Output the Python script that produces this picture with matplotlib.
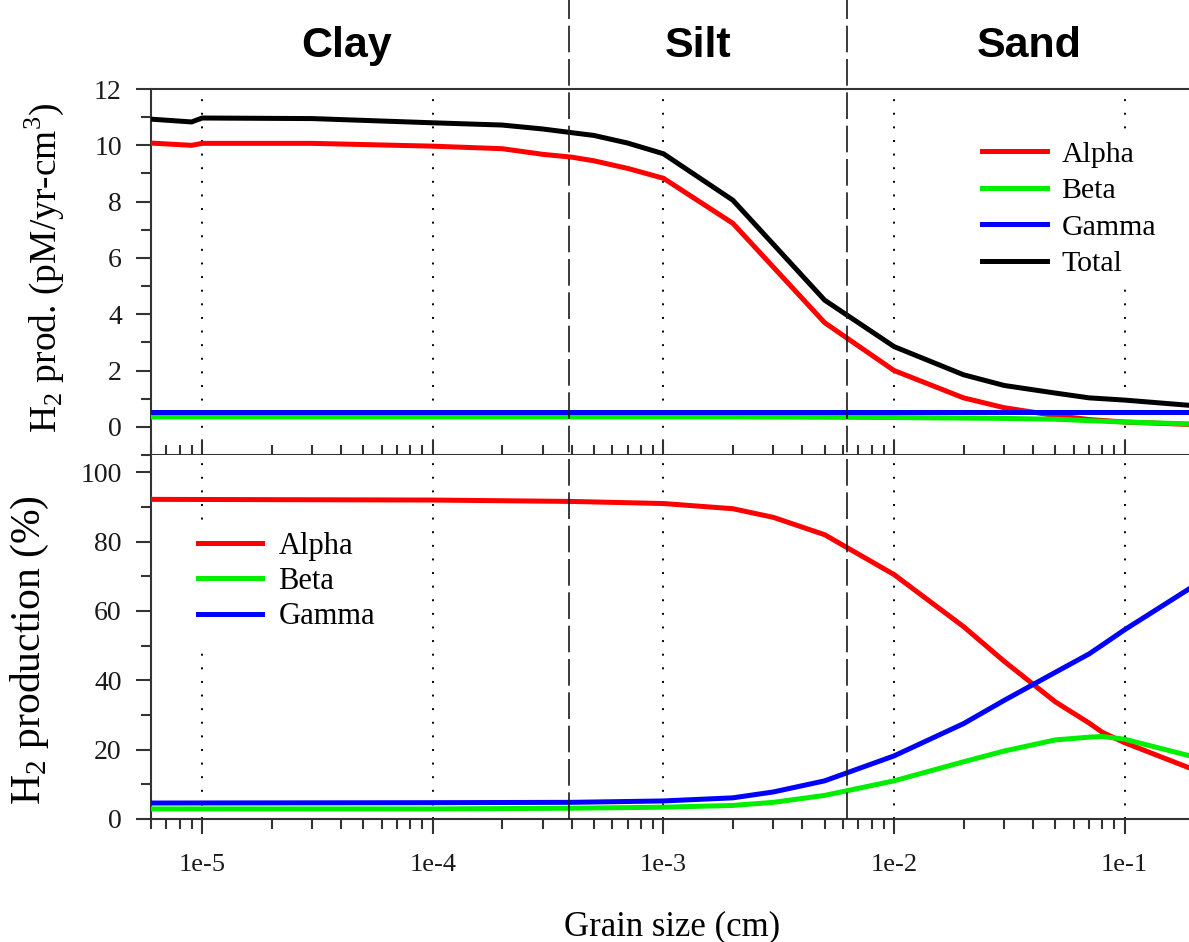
import numpy as np
import matplotlib
matplotlib.use("Agg")
import matplotlib.pyplot as plt
from matplotlib.ticker import LogLocator, FuncFormatter, MultipleLocator, NullFormatter
from matplotlib.transforms import blended_transform_factory

plt.rcParams['font.family'] = ['Liberation Serif', 'DejaVu Serif']
plt.rcParams['mathtext.fontset'] = 'custom'
plt.rcParams['mathtext.rm'] = 'Liberation Serif'

# H2 production rate (pM/yr-cm3) vs grain size (cm)
x_rate = [6e-6, 9e-6, 1e-5, 3e-5, 1e-4, 2e-4, 3e-4, 4e-4, 5e-4, 7e-4, 1e-3,
          2e-3, 5e-3, 1e-2, 2e-2, 3e-2, 5e-2, 7e-2, 1e-1, 2e-1]
alpha_rate = [10.08, 10.0, 10.07, 10.07, 9.97, 9.88, 9.68, 9.58, 9.45, 9.18, 8.83,
              7.23, 3.7, 2.0, 1.03, 0.68, 0.4, 0.26, 0.17, 0.08]
beta_rate = [0.35, 0.35, 0.35, 0.35, 0.35, 0.35, 0.35, 0.35, 0.35, 0.35, 0.35,
             0.35, 0.34, 0.33, 0.31, 0.3, 0.27, 0.22, 0.17, 0.1]
gamma_rate = [0.51] * 20
total_rate = [10.93, 10.83, 10.97, 10.95, 10.8, 10.72, 10.58, 10.45, 10.35, 10.08, 9.7,
              8.05, 4.5, 2.85, 1.85, 1.47, 1.2, 1.03, 0.95, 0.75]

# H2 production share (%)
x_pct = [6e-6, 1e-4, 4e-4, 1e-3, 2e-3, 3e-3, 5e-3, 1e-2, 2e-2, 3e-2,
         5e-2, 7e-2, 8e-2, 1e-1, 2e-1]
alpha_pct = [92.2, 92.0, 91.6, 91.0, 89.5, 87.0, 82.0, 70.5, 55.5, 45.5,
             33.8, 27.7, 25.0, 22.0, 14.2]
beta_pct = [2.9, 2.9, 3.1, 3.4, 3.9, 4.8, 6.8, 11.0, 16.5, 19.6,
            22.8, 23.6, 23.8, 23.0, 17.9]
gamma_pct = [4.6, 4.7, 4.8, 5.2, 6.1, 7.8, 11.0, 18.2, 27.5, 34.2,
             42.3, 47.6, 50.2, 54.6, 67.3]

# class boundaries (cm) and labels
bounds = [3.9e-4, 6.25e-3]
classes = ['Clay', 'Silt', 'Sand']
class_x = [347, 698, 1029]   # label centres, px
decades = [1e-5, 1e-4, 1e-3, 1e-2, 1e-1]

RED, GREEN, BLUE, BLACK = '#ff0000', '#00ee00', '#0000ff', '#000000'
LW = 3.6
SPINE = '#333333'

fig = plt.figure(figsize=(11.89, 9.42), dpi=100)
ax1 = fig.add_axes([0.127, 0.517, 0.873, 0.3885])
ax2 = fig.add_axes([0.127, 0.1306, 0.873, 0.3864])

for ax in (ax1, ax2):
    ax.set_xscale('log')
    ax.set_xlim(6e-6, 0.19)
    for d in decades:
        ax.axvline(d, color='black', lw=1.4, ls=(0, (1, 6)), zorder=1)
    ax.spines['right'].set_visible(False)
    for s in ('left', 'bottom', 'top'):
        ax.spines[s].set_color(SPINE)
        ax.spines[s].set_linewidth(1.5)
    ax.xaxis.set_major_locator(LogLocator(base=10, numticks=20))
    ax.xaxis.set_minor_locator(LogLocator(base=10, subs=np.arange(2, 10), numticks=20))
    ax.xaxis.set_minor_formatter(NullFormatter())
    ax.tick_params(axis='both', which='major', length=11, width=1.5, color=SPINE,
                   labelcolor='#1a1a1a')
    ax.tick_params(axis='both', which='minor', length=7, width=1.5, color=SPINE)
    ax.tick_params(axis='y', which='both', direction='out', pad=10, labelsize=20)
    ax.tick_params(axis='x', labelsize=19)

# top panel: rates
ax1.plot(x_rate, alpha_rate, color=RED, lw=LW, label='Alpha', zorder=3)
ax1.plot(x_rate, beta_rate, color=GREEN, lw=LW, label='Beta', zorder=3)
ax1.plot(x_rate, gamma_rate, color=BLUE, lw=LW, label='Gamma', zorder=3)
ax1.plot(x_rate, total_rate, color=BLACK, lw=LW, label='Total', zorder=3)
ax1.set_ylim(-1, 12)
ax1.yaxis.set_major_locator(MultipleLocator(2))
ax1.yaxis.set_minor_locator(MultipleLocator(1))
ax1.tick_params(axis='x', which='both', direction='in', labelbottom=False, top=False)

leg1 = ax1.legend(loc='center left', bbox_to_anchor=(0.775, 0.672), fontsize=21.5,
                  handlelength=2.15, handletextpad=0.5, labelspacing=0.32,
                  borderpad=0.4, frameon=True, fancybox=False, framealpha=1,
                  facecolor='white', edgecolor='none')
leg1.set_zorder(5)

# bottom panel: shares
ax2.plot(x_pct, alpha_pct, color=RED, lw=LW, label='Alpha', zorder=3)
ax2.plot(x_pct, beta_pct, color=GREEN, lw=LW, label='Beta', zorder=3)
ax2.plot(x_pct, gamma_pct, color=BLUE, lw=LW, label='Gamma', zorder=3)
ax2.set_ylim(0, 105)
ax2.yaxis.set_major_locator(MultipleLocator(20))
ax2.yaxis.set_minor_locator(MultipleLocator(10))
ax2.spines['top'].set_visible(False)
ax2.tick_params(axis='x', which='both', direction='out', top=False, pad=14)
ax2.xaxis.set_major_formatter(FuncFormatter(lambda v, p: '1e%d' % round(np.log10(v))))

leg2 = ax2.legend(loc='center left', bbox_to_anchor=(0.019, 0.652), fontsize=22,
                  handlelength=2.1, handletextpad=0.52, labelspacing=0.2,
                  borderpad=0.4, frameon=True, fancybox=False, framealpha=1,
                  facecolor='white', edgecolor='none')
leg2.set_zorder(5)

# class boundaries, dashed through both panels and the header
trans = blended_transform_factory(ax2.transData, fig.transFigure)
for b in bounds:
    ax2.plot([b, b], [0.1306, 1.0], transform=trans, color='#1a1a1a', lw=1.2,
             ls=(0, (16, 4)), clip_on=False, zorder=4)

for name, cx in zip(classes, class_x):
    fig.text(cx / 1189, 1 - 57 / 942, name, ha='center', va='baseline',
             fontsize=31, fontweight='bold',
             family=['Liberation Sans Narrow', 'Liberation Sans', 'DejaVu Sans'])

fig.text(44 / 1189, 1 - 268 / 942, r'H$_\mathrm{2}$ prod. (pM/yr-cm$^\mathrm{3}$)',
         rotation=90, ha='center', va='center', fontsize=27)
fig.text(30 / 1189, 1 - 650 / 942, r'H$_\mathrm{2}$ production (%)',
         rotation=90, ha='center', va='center', fontsize=30)
fig.text(672 / 1189, 1 - 935 / 942, 'Grain size (cm)', ha='center', va='baseline',
         fontsize=25)

fig.savefig('out.png', dpi=100)
